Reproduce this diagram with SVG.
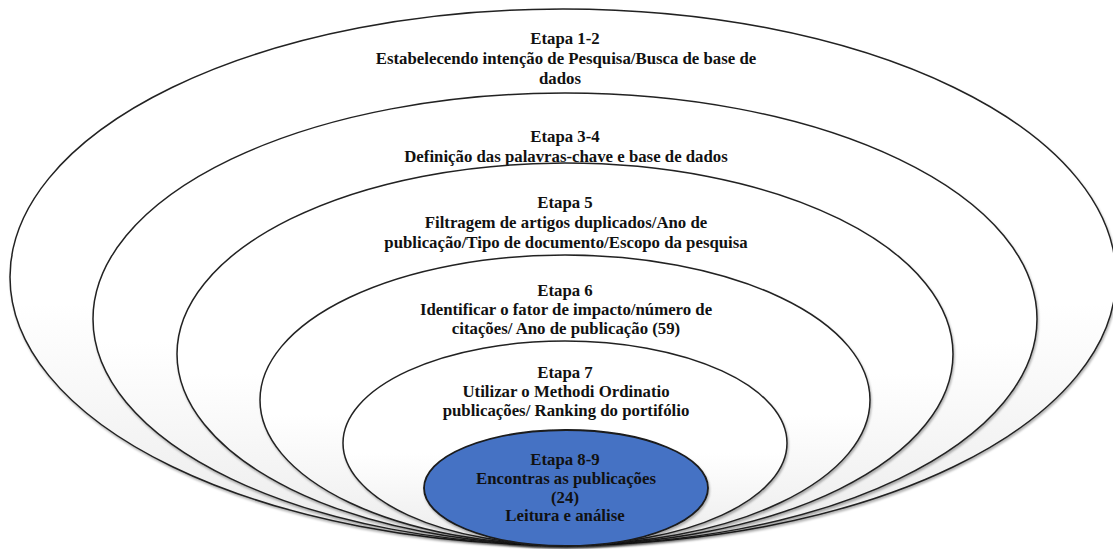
<svg xmlns="http://www.w3.org/2000/svg" width="1113" height="549" viewBox="0 0 1113 549">
<defs>
<linearGradient id="g" x1="0" y1="0" x2="0" y2="1">
<stop offset="0" stop-color="#ffffff"/>
<stop offset="0.55" stop-color="#ffffff"/>
<stop offset="1" stop-color="#ebebeb"/>
</linearGradient>
<filter id="sh" x="-5%" y="-5%" width="110%" height="115%">
<feDropShadow dx="1" dy="2" stdDeviation="1.2" flood-color="#000" flood-opacity="0.3"/>
</filter>
<style>
.ring{fill:url(#g);stroke:#222;stroke-width:1.5;filter:url(#sh)}
.core{fill:#4472c4;stroke:#1a1a1a;stroke-width:1.8;filter:url(#sh)}
text{font-family:"Liberation Serif","Times New Roman",serif;font-weight:bold;font-size:16.8px;fill:#111;text-anchor:middle}
</style>
</defs>
<rect width="1113" height="549" fill="#fff"/>
<g id="etapa-1-2">
<ellipse class="ring" cx="563" cy="277" rx="553" ry="268"/>
<text x="565" y="44">Etapa 1-2</text>
<text x="566" y="64">Estabelecendo intenção de Pesquisa/Busca de base de</text>
<text x="560" y="84">dados</text>
</g>
<g id="etapa-3-4">
<ellipse class="ring" cx="565" cy="319" rx="472" ry="226"/>
<text x="565" y="142">Etapa 3-4</text>
<text x="566" y="162">Definição das palavras-chave e base de dados</text>
</g>
<g id="etapa-5">
<ellipse class="ring" cx="565" cy="354" rx="388" ry="191"/>
<text x="565" y="208">Etapa 5</text>
<text x="566" y="228">Filtragem de artigos duplicados/Ano de</text>
<text x="566" y="248">publicação/Tipo de documento/Escopo da pesquisa</text>
</g>
<g id="etapa-6">
<ellipse class="ring" cx="565" cy="400" rx="305" ry="145"/>
<text x="565" y="296">Etapa 6</text>
<text x="566" y="315">Identificar o fator de impacto/número de</text>
<text x="566" y="334">citações/ Ano de publicação (59)</text>
</g>
<g id="etapa-7">
<ellipse class="ring" cx="565" cy="443" rx="222" ry="102"/>
<text x="565" y="378">Etapa 7</text>
<text x="566" y="397">Utilizar o Methodi Ordinatio</text>
<text x="566" y="416">publicações/ Ranking do portifólio</text>
</g>
<g id="etapa-8-9">
<ellipse class="core" cx="566" cy="488" rx="142" ry="58"/>
<text x="565" y="465">Etapa 8-9</text>
<text x="566" y="484">Encontras as publicações</text>
<text x="565" y="503">(24)</text>
<text x="565" y="521">Leitura e análise</text>
</g>
<g id="connectors"/>
</svg>
